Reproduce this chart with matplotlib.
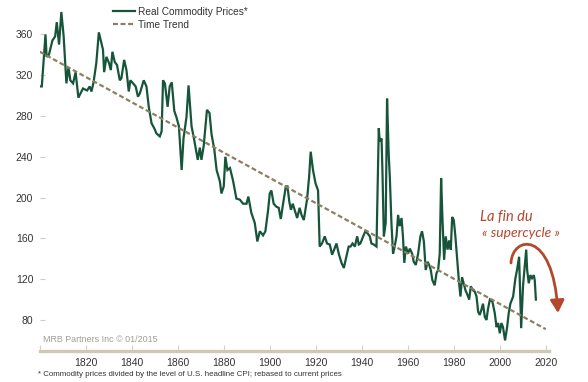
import matplotlib
matplotlib.use("Agg")
import matplotlib.pyplot as plt
from matplotlib.patches import FancyArrowPatch
from matplotlib.path import Path

# real commodity prices
years = [
    1800.0, 1800.9, 1802.5, 1803.0, 1804.0, 1805.5, 1806.7, 1807.4, 1808.4, 1809.4,
    1810.4, 1811.6, 1812.5, 1813.3, 1814.5, 1815.6, 1816.8, 1818.8, 1820.6, 1821.7,
    1822.5, 1823.4, 1824.6, 1825.7, 1827.5, 1828.0, 1829.0, 1830.1, 1830.9, 1831.6,
    1832.6, 1833.6, 1834.8, 1835.5, 1836.7, 1837.7, 1838.7, 1839.4, 1840.6, 1841.7,
    1842.7, 1843.5, 1845.2, 1846.4, 1847.4, 1848.6, 1850.0, 1850.7, 1852.2, 1853.0,
    1853.6, 1854.4, 1855.6, 1856.5, 1857.4, 1858.5, 1859.4, 1860.5, 1861.7, 1862.5,
    1863.8, 1864.7, 1866.0, 1867.2, 1868.7, 1869.6, 1870.3, 1871.3, 1872.7, 1873.8,
    1874.7, 1875.9, 1876.9, 1878.3, 1879.0, 1880.0, 1880.7, 1881.6, 1882.7, 1884.0,
    1885.5, 1887.0, 1888.4, 1889.9, 1890.7, 1892.0, 1893.5, 1894.6, 1895.7, 1897.1,
    1898.1, 1899.3, 1900.0, 1900.7, 1901.7, 1902.9, 1903.9, 1904.8, 1905.8, 1907.0,
    1907.7, 1908.5, 1909.2, 1910.0, 1911.2, 1911.9, 1913.0, 1913.8, 1914.8, 1915.5,
    1916.2, 1917.1, 1917.8, 1918.8, 1919.9, 1921.0, 1921.7, 1922.7, 1923.9, 1924.9,
    1926.1, 1927.1, 1928.0, 1929.0, 1930.0, 1931.2, 1932.2, 1933.3, 1934.3, 1935.1,
    1936.0, 1937.0, 1938.0, 1938.7, 1939.4, 1940.6, 1941.6, 1942.5, 1943.5, 1944.2,
    1945.2, 1946.4, 1946.8, 1947.4, 1947.8, 1948.6, 1949.0, 1949.6, 1950.4, 1951.0,
    1951.7, 1952.2, 1952.9, 1953.6, 1954.3, 1955.1, 1955.8, 1956.5, 1957.3, 1957.9,
    1958.5, 1959.2, 1960.1, 1960.9, 1961.9, 1962.6, 1963.5, 1964.5, 1965.5, 1966.2,
    1967.0, 1967.8, 1968.6, 1969.3, 1970.0, 1970.7, 1971.7, 1972.5, 1973.2, 1973.9,
    1974.5, 1975.1, 1975.8, 1976.5, 1977.3, 1978.0, 1978.7, 1979.3, 1980.0, 1980.7,
    1981.4, 1982.2, 1982.9, 1983.6, 1984.3, 1985.1, 1985.9, 1986.7, 1987.4, 1988.4,
    1989.1, 1989.9, 1990.6, 1991.3, 1992.0, 1992.7, 1993.5, 1994.2, 1994.9, 1995.7,
    1996.8, 1997.8, 1998.6, 1999.3, 2000.0, 2000.7, 2001.4, 2002.3, 2003.2, 2003.9,
    2004.6, 2005.8, 2006.8, 2007.5, 2008.4, 2009.3, 2010.1, 2010.7, 2011.5, 2011.9,
    2012.6, 2013.3, 2014.0, 2014.8, 2015.2, 2015.7,
]
prices = [
    309, 309, 360, 338, 340, 354, 358, 372, 350, 382,
    358, 312, 328, 315, 312, 323, 298, 307, 305, 309,
    304, 313, 332, 362, 345, 323, 338, 332, 325, 343,
    333, 330, 315, 317, 335, 325, 304, 315, 312, 309,
    299, 302, 315, 309, 289, 273, 267, 263, 260, 265,
    315, 312, 289, 309, 313, 285, 279, 270, 227, 258,
    279, 310, 270, 256, 237, 249, 237, 251, 286, 283,
    262, 247, 227, 216, 204, 211, 240, 227, 229, 217,
    199, 198, 194, 194, 201, 185, 175, 157, 167, 163,
    167, 188, 204, 207, 194, 191, 190, 179, 194, 211,
    211, 196, 188, 194, 185, 180, 190, 183, 178, 188,
    198, 220, 245, 227, 214, 207, 152, 155, 162, 155,
    154, 144, 149, 155, 145, 136, 131, 142, 152, 152,
    155, 152, 162, 154, 155, 162, 167, 165, 162, 155,
    154, 152, 198, 268, 255, 258, 225, 162, 175, 297,
    243, 220, 175, 145, 152, 162, 183, 172, 180, 162,
    136, 152, 145, 150, 145, 137, 134, 145, 162, 167,
    157, 129, 137, 134, 129, 119, 114, 126, 129, 145,
    219, 178, 139, 162, 149, 158, 149, 181, 178, 162,
    142, 119, 103, 122, 116, 109, 105, 100, 113, 109,
    108, 103, 88, 85, 90, 96, 83, 80, 91, 100,
    98, 87, 73, 77, 67, 77, 73, 60, 73, 87,
    96, 103, 121, 129, 142, 72, 113, 129, 149, 129,
    116, 124, 121, 124, 119, 100,
]

trend_years = [1800, 2020]
trend_values = [343, 71]

y_ticks = [80, 120, 160, 200, 240, 280, 320, 360]
x_ticks = [1800, 1820, 1840, 1860, 1880, 1900, 1920, 1940, 1960, 1980, 2000, 2020]
x_labels = ["", "1820", "1840", "1860", "1880", "1900", "1920", "1940",
            "1960", "1980", "2000", "2020"]

green = "#17553a"
trend_col = "#8c8062"
rust = "#b3482c"
text_col = "#333333"

plt.rcParams["font.family"] = ["Liberation Sans", "DejaVu Sans"]

W, H = 588, 382
fig = plt.figure(figsize=(W / 100, H / 100), dpi=100)
ax = fig.add_axes([39.5 / W, (H - 351) / H, (549 - 39.5) / W, (351 - 3.8) / H])

ax.plot(years, prices, color=green, lw=1.6, solid_joinstyle="miter", zorder=2,
        label="Real Commodity Prices*")
ax.plot(trend_years, trend_values, color=trend_col, lw=1.6, dashes=(2.2, 1.2),
        zorder=3, label="Time Trend")

ax.set_xlim(1799.9, 2021.4)
ax.set_ylim(49.6, 390)

for s in ["top", "right", "left"]:
    ax.spines[s].set_visible(False)
ax.spines["bottom"].set_color("#cfc8b7")
ax.spines["bottom"].set_linewidth(2.4)

ax.set_xticks(x_ticks)
ax.set_xticklabels(x_labels)
ax.set_yticks(y_ticks)
ax.tick_params(axis="x", direction="in", length=4, width=0.8, color="#d6d0c2",
               labelsize=7.5, labelcolor=text_col, pad=5)
ax.tick_params(axis="y", direction="in", length=3.5, width=0.8, color="#cccccc",
               labelsize=7.5, labelcolor=text_col, pad=4.5)

ax.legend(loc="upper left", bbox_to_anchor=(113 / W, 1 - 7 / H),
          bbox_transform=fig.transFigure, frameon=False, fontsize=7.3,
          handlelength=2.15, handletextpad=0.3, labelspacing=0.3,
          borderpad=0, borderaxespad=0, labelcolor=text_col)

fig.text(43 / W, 1 - 339 / H, "MRB Partners Inc \u00a9 01/2015", fontsize=6.4,
         color="#a29d93", ha="left", va="center")
fig.text(38 / W, 1 - 374 / H,
         "* Commodity prices divided by the level of U.S. headline CPI; rebased to current prices",
         fontsize=5.7, color=text_col, ha="left", va="center")

fig.text(480 / W, 1 - 217 / H, "La fin du", fontsize=10.5, color=rust,
         family=["Lato", "DejaVu Sans"], style="italic", ha="left", va="center")
fig.text(482 / W, 1 - 233 / H, "\u00ab supercycle \u00bb", fontsize=10,
         color=rust, family=["Lato", "DejaVu Sans"], style="italic",
         ha="left", va="center")

# curved arrow over the last cycle (pixel positions -> figure fraction)
arc_px = [(511, 263), (512, 236), (553, 228), (558, 313)]
arc_pts = [(px / W, 1 - py / H) for px, py in arc_px]
arc_path = Path(arc_pts, [Path.MOVETO, Path.CURVE4, Path.CURVE4, Path.CURVE4])
arrow = FancyArrowPatch(path=arc_path, transform=fig.transFigure,
                        arrowstyle="-|>,head_length=0.75,head_width=0.42",
                        mutation_scale=10, color=rust, lw=2)
fig.patches.append(arrow)

fig.savefig("out.png", dpi=100)
